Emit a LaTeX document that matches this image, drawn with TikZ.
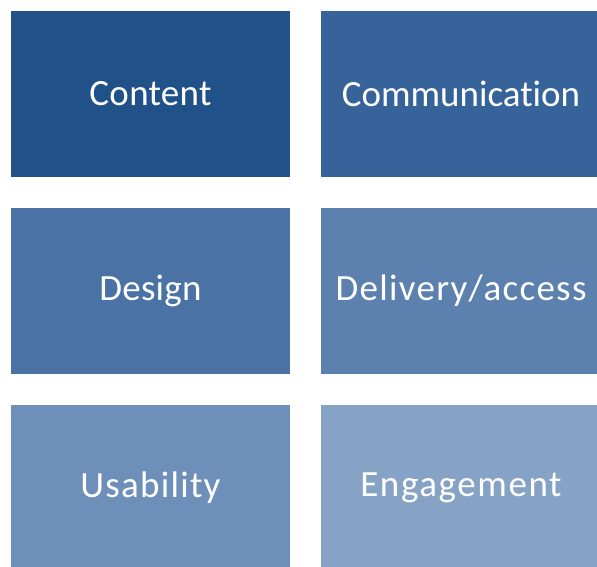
\documentclass[tikz,border=0pt]{standalone}
\usepackage{fontspec}
\setmainfont[Ligatures=NoCommon]{Carlito}
\definecolor{tileA}{HTML}{215189}
\definecolor{tileB}{HTML}{36639A}
\definecolor{tileC}{HTML}{4A72A4}
\definecolor{tileD}{HTML}{5D81AE}
\definecolor{tileE}{HTML}{6E8FB9}
\definecolor{tileF}{HTML}{86A2C4}
\begin{document}
\begin{tikzpicture}[x=1pt,y=-1pt,
  tile/.style={anchor=north west,inner sep=0pt,outer sep=0pt,minimum height=166pt,
    text=white,font=\fontsize{37}{44}\selectfont},
  spaced/.style={font=\fontsize{37}{44}\selectfont\addfontfeatures{LetterSpace=#1}}]
\path[use as bounding box] (0,0) rectangle (597,567);
\begin{scope}
\clip (0,0) rectangle (597,567);
\node[tile,spaced=0.8,fill=tileA,minimum width=279pt] (content) at (11,11) {Content};
\node[tile,fill=tileB,minimum width=280pt] (communication) at (321,11) {Communication};
\node[tile,spaced=0.6,fill=tileC,minimum width=279pt] (design) at (11,208) {Design};
\node[tile,spaced=3.5,fill=tileD,minimum width=280pt] (delivery) at (321,208) {Delivery/access};
\node[tile,spaced=3.4,fill=tileE,minimum width=279pt] (usability) at (11,405) {Usability};
\node[tile,spaced=4.3,fill=tileF,minimum width=280pt] (engagement) at (321,405) {Engagement};
\end{scope}
\end{tikzpicture}
\end{document}
